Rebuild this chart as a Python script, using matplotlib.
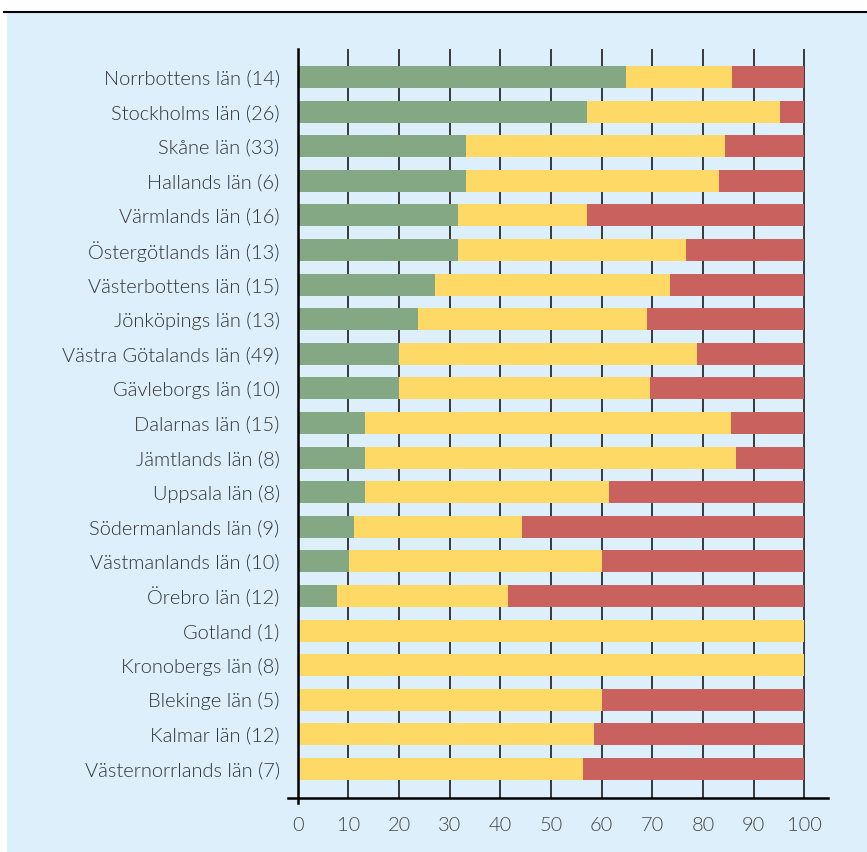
import matplotlib.pyplot as plt
from matplotlib.patches import Rectangle
from matplotlib.lines import Line2D
import numpy as np

plt.rcParams['font.family'] = ['Lato', 'DejaVu Sans']

lan = ['Norrbottens län (14)', 'Stockholms län (26)', 'Skåne län (33)',
       'Hallands län (6)', 'Värmlands län (16)', 'Östergötlands län (13)',
       'Västerbottens län (15)', 'Jönköpings län (13)', 'Västra Götalands län (49)',
       'Gävleborgs län (10)', 'Dalarnas län (15)', 'Jämtlands län (8)',
       'Uppsala län (8)', 'Södermanlands län (9)', 'Västmanlands län (10)',
       'Örebro län (12)', 'Gotland (1)', 'Kronobergs län (8)',
       'Blekinge län (5)', 'Kalmar län (12)', 'Västernorrlands län (7)']

# andel (%) per färg
gron = [64.8, 57.2, 33.3, 33.3, 31.7, 31.6, 27.1, 23.8, 20.0, 20.0,
        13.3, 13.3, 13.3, 11.1, 10.1, 7.8, 0, 0, 0, 0, 0]
gul = [21.0, 38.1, 51.1, 49.8, 25.5, 45.1, 46.5, 45.2, 58.9, 49.6,
       72.3, 73.3, 48.2, 33.2, 49.9, 33.8, 100, 100, 60.0, 58.6, 56.4]
rod = [100 - g - y for g, y in zip(gron, gul)]

c_bg = '#ddeffb'
c_green = '#84a884'
c_yellow = '#ffd966'
c_red = '#c9625e'

fig = plt.figure(figsize=(8.67, 8.52), dpi=100)
fig.patch.set_facecolor('white')
fig.patches.append(Rectangle((0.008, 0), 0.992, 1 - 12/852, transform=fig.transFigure,
                             facecolor=c_bg, edgecolor='none', zorder=-10))
fig.lines.append(Line2D([0.005, 1], [1 - 11.5/852, 1 - 11.5/852], transform=fig.transFigure,
                        color='black', lw=1.5, zorder=-9))

ax = fig.add_axes([288/867, 1 - 798/852, (828 - 288)/867, (798 - 49)/852])
ax.set_facecolor('none')

y = np.arange(len(lan))
h = 0.636
ax.barh(y, gron, height=h, color=c_green, zorder=3)
ax.barh(y, gul, left=gron, height=h, color=c_yellow, zorder=3)
ax.barh(y, rod, left=np.array(gron) + np.array(gul), height=h, color=c_red, zorder=3)

ax.set_ylim(len(lan) - 1 + 0.84, -0.81)
ax.set_xlim(-1.9, 104.7)
ax.set_xticks(range(0, 101, 10))
ax.set_yticks(y)
ax.set_yticklabels(lan, fontweight=300)
for t in ax.get_xticklabels():
    t.set_fontweight(300)

for xv in range(10, 101, 10):
    ax.axvline(xv, color='#2a2a2a', lw=1.3, zorder=1)
ax.axvline(0, ymin=-0.007, ymax=1, color='black', lw=1.8, zorder=4, clip_on=False)

for s in ['top', 'right', 'left']:
    ax.spines[s].set_visible(False)
ax.spines['bottom'].set_linewidth(1.8)
ax.spines['bottom'].set_color('black')

ax.tick_params(axis='y', length=0, pad=6, labelsize=14.4, labelcolor='#333333')
ax.tick_params(axis='x', length=0, pad=14, labelsize=14.4, labelcolor='#444444')

fig.savefig('out.png', dpi=100, facecolor=fig.get_facecolor())
